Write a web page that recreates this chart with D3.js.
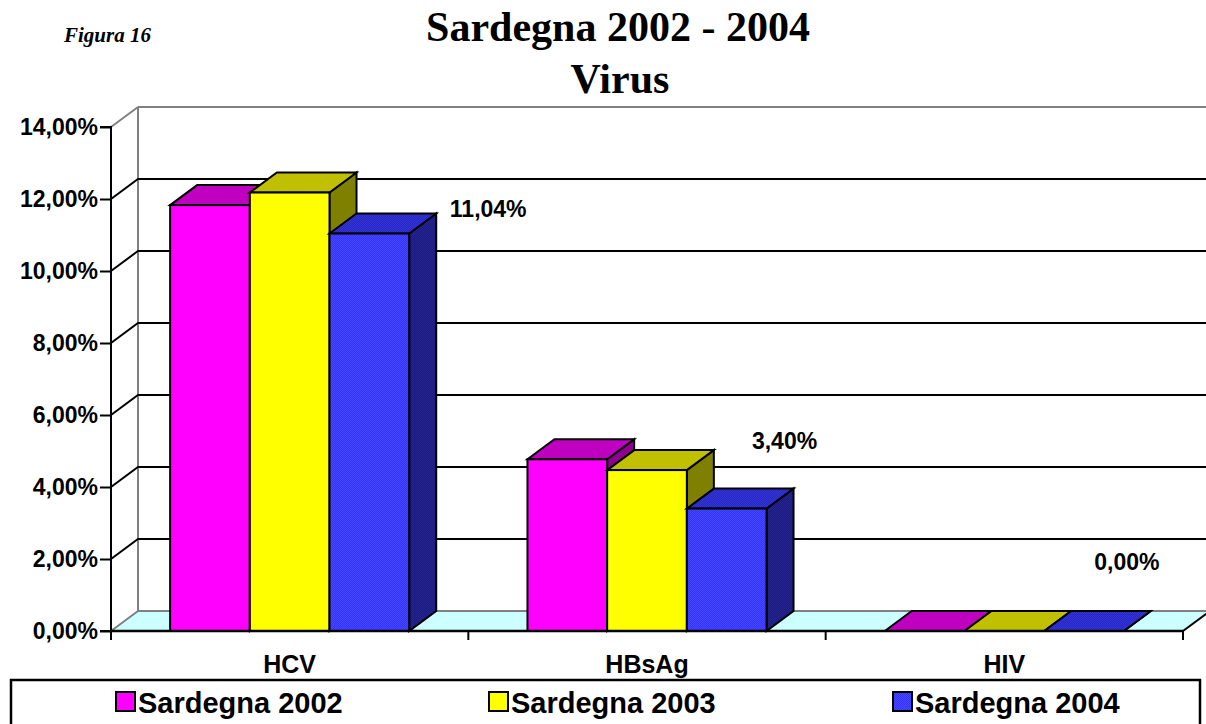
<!DOCTYPE html>
<html><head><meta charset="utf-8">
<script src="https://cdn.jsdelivr.net/npm/d3@7"></script>
<style>
html,body{margin:0;padding:0;background:#fff;}
svg{display:block;}
</style></head>
<body>
<svg id="chart" width="1206" height="724"></svg>
<script>
// ---- data ----
const categories = ["HCV", "HBsAg", "HIV"];
const seriesNames = ["Sardegna 2002", "Sardegna 2003", "Sardegna 2004"];
const values2002 = [11.83, 4.77, 0.0];
const values2003 = [12.18, 4.47, 0.0];
const values2004 = [11.04, 3.40, 0.0];
const yTickValues = [0, 2, 4, 6, 8, 10, 12, 14];
const yTickLabels = ["0,00%", "2,00%", "4,00%", "6,00%", "8,00%", "10,00%", "12,00%", "14,00%"];
const labels2004 = ["11,04%", "3,40%", "0,00%"];
const titleLines = ["Sardegna 2002 - 2004", "Virus"];
const figureLabel = "Figura 16";

// ---- layout ----
const seriesValues = [values2002, values2003, values2004];
const depthX = 27, depthY = -20;
const labelNudges = [[52, 3], [-9, -40], [-24, -41]];
const sans = "'Liberation Sans', Arial, sans-serif";
const serif = "'Liberation Serif', 'Times New Roman', serif";

const svg = d3.select("#chart");
const defs = svg.append("defs");
function checker(id, a, b) {
  const p = defs.append("pattern").attr("id", id).attr("width", 2).attr("height", 2)
    .attr("patternUnits", "userSpaceOnUse");
  p.append("rect").attr("width", 2).attr("height", 2).attr("fill", a);
  p.append("rect").attr("width", 1).attr("height", 1).attr("fill", b);
  p.append("rect").attr("x", 1).attr("y", 1).attr("width", 1).attr("height", 1).attr("fill", b);
}
checker("blueFront", "#3333ff", "#4747ff");
checker("blueTop", "#2626c4", "#3535d6");
checker("blueSide", "#1a1a80", "#25258f");

const faces = [
  {front: "#ff00ff", top: "#c000c0", side: "#900090"},
  {front: "#ffff00", top: "#c0c000", side: "#808000"},
  {front: "url(#blueFront)", top: "url(#blueTop)", side: "url(#blueSide)"}
];

const y = d3.scaleLinear().domain([0, 14]).range([631, 127]);
const x = d3.scaleBand().domain(categories).range([111, 1183]).paddingInner(0).paddingOuter(0);
const xs = d3.scaleBand().domain(seriesNames).range([0, x.bandwidth()]).paddingInner(0).paddingOuter(0.742);

const x0 = x.range()[0], x1 = x.range()[1];
const yTop = y(14), y0 = y(0);

// floor
svg.append("polygon")
  .attr("points", [[x0, y0], [x0 + depthX, y0 + depthY], [x1 + depthX, y0 + depthY], [x1, y0]].join(" "))
  .attr("fill", "#ccffff").attr("stroke", "none");
svg.append("line").attr("x1", x0 + depthX).attr("x2", x1 + depthX).attr("y1", y0 + depthY).attr("y2", y0 + depthY)
  .attr("stroke", "#808080").attr("stroke-width", 2);
svg.append("line").attr("x1", x0).attr("y1", y0).attr("x2", x0 + depthX).attr("y2", y0 + depthY)
  .attr("stroke", "#808080").attr("stroke-width", 2);
svg.append("line").attr("x1", x1).attr("y1", y0).attr("x2", x1 + depthX).attr("y2", y0 + depthY)
  .attr("stroke", "#000").attr("stroke-width", 2);

// back wall top & left wall back edge
svg.append("line").attr("x1", x0 + depthX).attr("x2", x1 + depthX).attr("y1", yTop + depthY).attr("y2", yTop + depthY)
  .attr("stroke", "#808080").attr("stroke-width", 2);
svg.append("line").attr("x1", x0 + depthX).attr("x2", x0 + depthX).attr("y1", yTop + depthY).attr("y2", y0 + depthY)
  .attr("stroke", "#808080").attr("stroke-width", 2);
svg.append("line").attr("x1", x0).attr("y1", yTop).attr("x2", x0 + depthX).attr("y2", yTop + depthY)
  .attr("stroke", "#808080").attr("stroke-width", 2);

// gridlines
const inner = yTickValues.filter(v => v > 0 && v < 14);
svg.append("g").selectAll("path").data(inner).join("path")
  .attr("d", v => `M${x0},${y(v)}L${x0 + depthX},${y(v) + depthY}L${x1 + depthX},${y(v) + depthY}`)
  .attr("fill", "none").attr("stroke", "#000").attr("stroke-width", 2);

// y axis
const yAxis = d3.axisLeft(y).tickValues(yTickValues)
  .tickFormat((d, i) => yTickLabels[i]).tickSize(11).tickPadding(2);
const gy = svg.append("g").attr("transform", `translate(${x0},0)`).call(yAxis);
gy.select(".domain").attr("stroke", "#000").attr("stroke-width", 2).attr("d", `M-11,${yTop}H0V${y0}H-11`);
gy.selectAll(".tick line").attr("stroke", "#000").attr("stroke-width", 2);
gy.selectAll(".tick text").attr("font-family", sans).attr("font-weight", "bold")
  .attr("font-size", 23).attr("fill", "#000");

// bars
const bw = xs.bandwidth();
categories.forEach((cat, ci) => {
  seriesNames.forEach((s, si) => {
    const v = seriesValues[si][ci];
    const bx = x(cat) + xs(s);
    const by = y(v);
    const f = faces[si];
    const g = svg.append("g").attr("stroke", "#000").attr("stroke-width", 2).attr("stroke-linejoin", "miter");
    g.append("polygon").attr("points", [[bx + bw, by], [bx + bw + depthX, by + depthY], [bx + bw + depthX, y0 + depthY], [bx + bw, y0]].join(" "))
      .attr("fill", f.side);
    g.append("polygon").attr("points", [[bx, by], [bx + depthX, by + depthY], [bx + bw + depthX, by + depthY], [bx + bw, by]].join(" "))
      .attr("fill", f.top);
    g.append("rect").attr("x", bx).attr("y", by).attr("width", bw).attr("height", y0 - by)
      .attr("fill", f.front);
  });
});

// floor front edge
svg.append("line").attr("x1", x0).attr("x2", x1).attr("y1", y0).attr("y2", y0)
  .attr("stroke", "#000").attr("stroke-width", 2.5);

// category ticks & labels
const edges = categories.map(c => x(c)).concat([x1]);
svg.append("g").selectAll("line").data(edges).join("line")
  .attr("x1", d => d).attr("x2", d => d).attr("y1", y0).attr("y2", y0 + 9)
  .attr("stroke", "#000").attr("stroke-width", 2);
svg.append("g").selectAll("text").data(categories).join("text")
  .attr("x", d => x(d) + x.bandwidth() / 2).attr("y", 673)
  .attr("text-anchor", "middle").attr("font-family", sans).attr("font-weight", "bold")
  .attr("font-size", 25).text(d => d);

// data labels (2004 series)
svg.append("g").selectAll("text").data(categories).join("text")
  .attr("x", (d, i) => x(d) + xs(seriesNames[2]) + bw + depthX + labelNudges[i][0])
  .attr("y", (d, i) => y(values2004[i]) + depthY + labelNudges[i][1])
  .attr("text-anchor", "middle").attr("font-family", sans).attr("font-weight", "bold")
  .attr("font-size", 23).text((d, i) => labels2004[i]);

// titles
svg.append("text").attr("x", 618).attr("y", 41).attr("text-anchor", "middle")
  .attr("font-family", serif).attr("font-weight", "bold").attr("font-size", 42).text(titleLines[0]);
svg.append("text").attr("x", 620).attr("y", 93).attr("text-anchor", "middle")
  .attr("font-family", serif).attr("font-weight", "bold").attr("font-size", 42).text(titleLines[1]);
svg.append("text").attr("x", 64).attr("y", 42)
  .attr("font-family", serif).attr("font-weight", "bold").attr("font-style", "italic").attr("font-size", 21).text(figureLabel);

// legend
svg.append("rect").attr("x", 11).attr("y", 680).attr("width", 1189).attr("height", 60)
  .attr("fill", "#fff").attr("stroke", "#000").attr("stroke-width", 2.5);
const legendX = [116, 489, 893];
const lg = svg.append("g").selectAll("g").data(seriesNames).join("g")
  .attr("transform", (d, i) => `translate(${legendX[i]},0)`);
lg.append("rect").attr("x", 0).attr("y", 692).attr("width", 19).attr("height", 19)
  .attr("fill", (d, i) => faces[i].front).attr("stroke", "#000").attr("stroke-width", 2);
lg.append("text").attr("x", 22).attr("y", 713).attr("font-family", sans).attr("font-weight", "bold")
  .attr("font-size", 29).text(d => d);
</script>
</body></html>
